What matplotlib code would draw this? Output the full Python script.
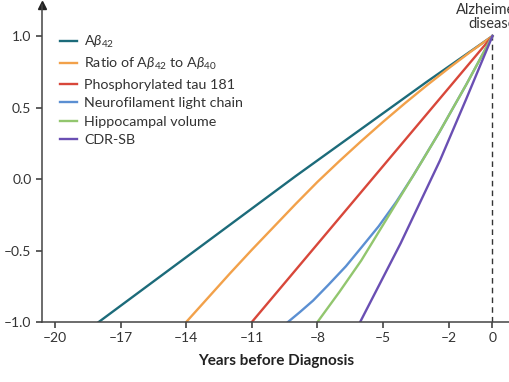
import matplotlib.pyplot as plt

plt.rcParams['font.family'] = ['Lato', 'DejaVu Sans']
plt.rcParams['mathtext.fontset'] = 'custom'
plt.rcParams['mathtext.rm'] = 'Lato'
plt.rcParams['mathtext.it'] = 'Lato:italic'

# values (years before diagnosis, z score)
ab42_x = [-18, -15, -12, -9, -6, -3, 0]
ab42_y = [-1.0, -0.66, -0.32, 0.02, 0.35, 0.68, 1.0]

ratio_x = [-14, -13, -12, -11, -10, -9, -8, -7, -6, -5, -4, -3, -2, -1, 0]
ratio_y = [-1.0, -0.83, -0.66, -0.495, -0.335, -0.175, -0.02, 0.125, 0.265, 0.40, 0.53, 0.655, 0.775, 0.89, 1.0]

ptau_x = [-11, 0]
ptau_y = [-1.0, 1.0]

nfl_x = [-9.35, -8.8, -8.2, -7.5, -6.7, -6.0, -5.2, -4.4, -3.64, -2.42, -1.2, 0]
nfl_y = [-1.0, -0.93, -0.85, -0.74, -0.61, -0.48, -0.33, -0.16, 0.02, 0.33, 0.66, 1.0]

hippo_x = [-8, -7, -6, -5, -4, -3.2, -2.42, -1.2, 0]
hippo_y = [-1.0, -0.79, -0.57, -0.32, -0.07, 0.13, 0.33, 0.66, 1.0]

cdr_x = [-6.05, -4.2, -2.4, -1.2, 0]
cdr_y = [-1.0, -0.45, 0.13, 0.56, 1.0]

xticks = [-20, -17, -14, -11, -8, -5, -2, 0]
yticks = [-1.0, -0.5, 0.0, 0.5, 1.0]

fig = plt.figure(figsize=(5.1, 3.82), dpi=100)
ax = fig.add_axes([0.082, 0.157, 0.918, 0.83])

ax.plot(ab42_x, ab42_y, color='#1c6b7a', lw=1.7, label=r'A$\it{\beta}_{42}$')
ax.plot(ratio_x, ratio_y, color='#f2a14a', lw=1.7, label=r'Ratio of A$\it{\beta}_{42}$ to A$\it{\beta}_{40}$')
ax.plot(ptau_x, ptau_y, color='#d8473a', lw=1.7, label='Phosphorylated tau 181')
ax.plot(nfl_x, nfl_y, color='#5b8fd2', lw=1.7, label='Neurofilament light chain')
ax.plot(hippo_x, hippo_y, color='#92c66e', lw=1.7, label='Hippocampal volume')
ax.plot(cdr_x, cdr_y, color='#6a4fb3', lw=1.7, label='CDR-SB')

ax.plot([0, 0], [-1, 1], color='#333333', lw=1, ls=(0, (4, 3)), zorder=1)
ax.text(0, 1.035, "Alzheimer's\ndisease", ha='center', va='bottom', fontsize=10.5,
        color='#333333', linespacing=1.0, clip_on=False)

ax.set_xlim(-20.6, 0.8)
ax.set_ylim(-1.0, 1.217)
ax.set_xticks(xticks)
ax.set_xticklabels([str(t).replace('-', '\u2013') for t in xticks])
ax.set_yticks(yticks)
ax.set_yticklabels([f'{t:.1f}'.replace('-', '\u2013') for t in yticks])

for s in ['top', 'right']:
    ax.spines[s].set_visible(False)
for s in ['left', 'bottom']:
    ax.spines[s].set_color('#444444')
    ax.spines[s].set_linewidth(1.1)
ax.tick_params(colors='#333333', labelsize=10, width=1.1, length=4, direction='out')
ax.plot(0, 1, marker='^', color='#222222', markersize=6, transform=ax.transAxes, clip_on=False)

ax.set_xlabel('Years before Diagnosis', fontsize=11, fontweight='bold', color='#222222', labelpad=7)

ax.legend(loc='upper left', bbox_to_anchor=(0.118, 0.912), bbox_transform=fig.transFigure,
          frameon=False, fontsize=10.3, handlelength=1.2, handletextpad=0.5,
          labelspacing=0.45, borderpad=0, borderaxespad=0, labelcolor='#333333')

fig.savefig('out.png', dpi=100)
